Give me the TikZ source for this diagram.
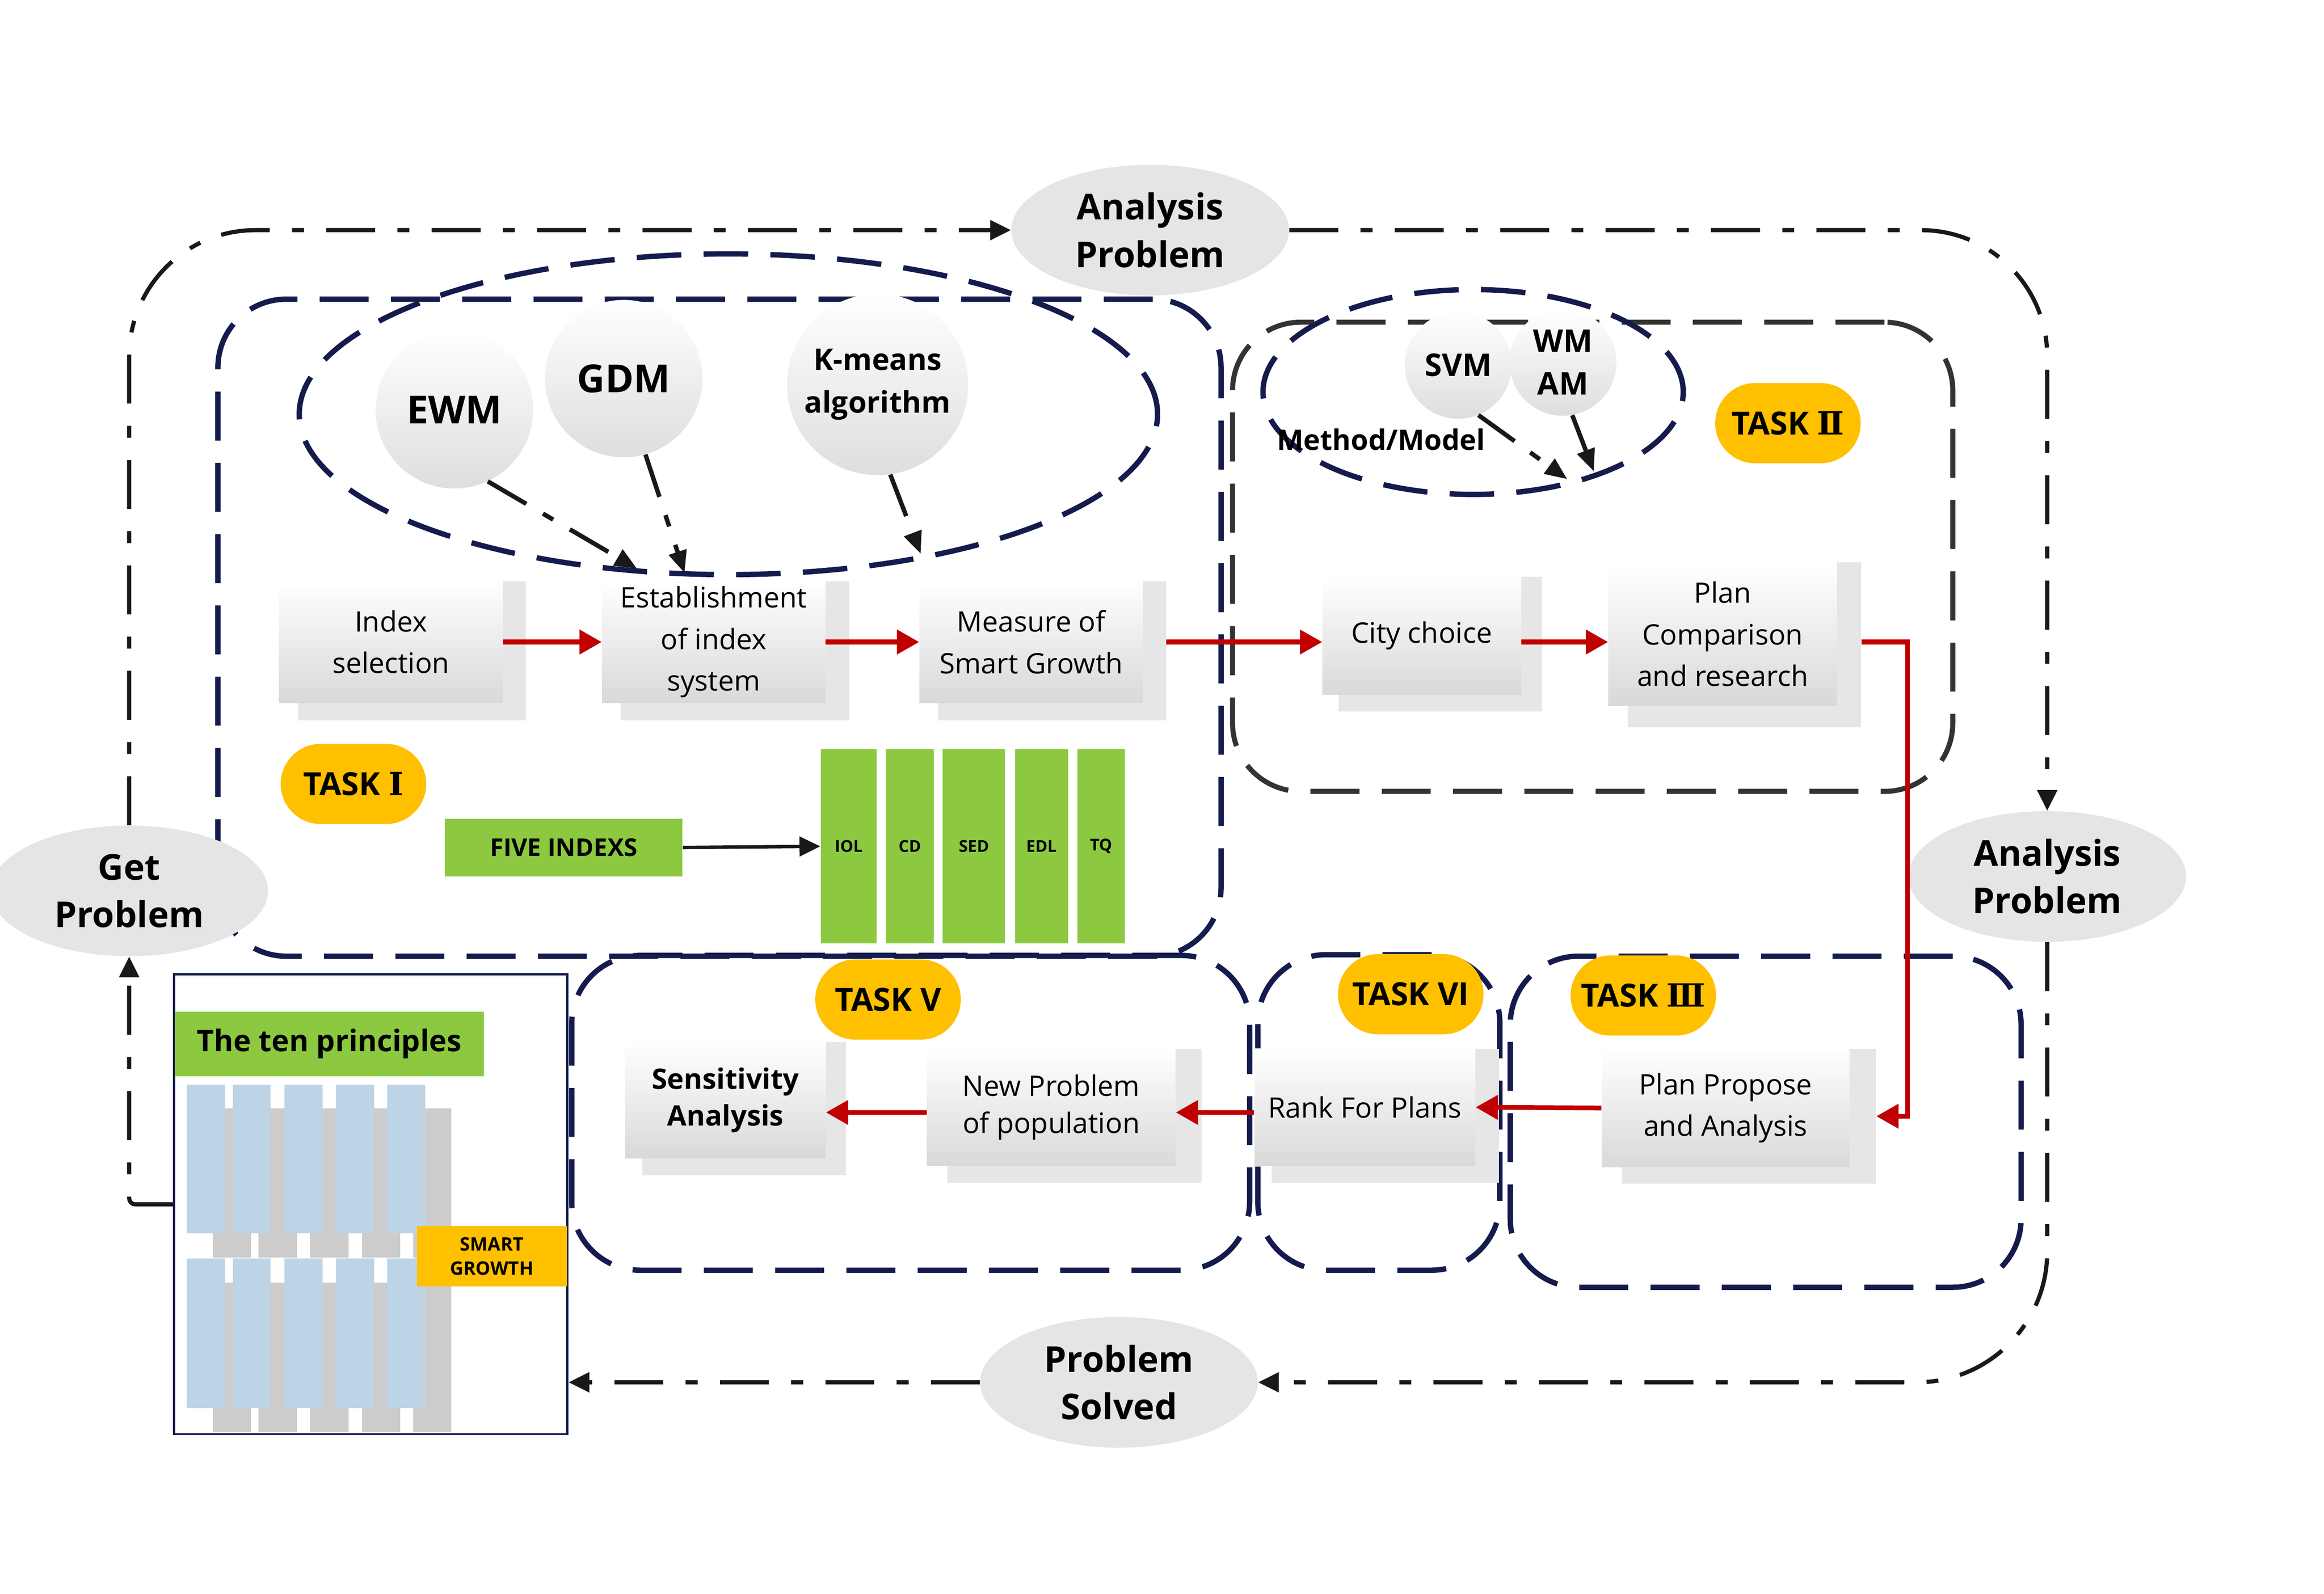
\documentclass[tikz,border=0pt]{standalone}
\usepackage{fontspec}
\setmainfont{Open Sans}
\newfontfamily\numfont{DejaVu Serif}
\usetikzlibrary{shapes.geometric,arrows.meta,calc}
\definecolor{navy}{HTML}{141B4D}
\definecolor{dgray}{HTML}{333333}
\definecolor{redc}{HTML}{C00000}
\definecolor{gold}{HTML}{FFC000}
\definecolor{lgreen}{HTML}{8CC940}
\definecolor{ellgray}{HTML}{E5E5E5}
\definecolor{shadowg}{HTML}{E6E6E6}
\definecolor{pblue}{HTML}{BDD4E7}
\definecolor{pgray}{HTML}{CCCCCC}
\tikzset{
  navyreg/.style={draw=navy, line width=3.6pt, dash pattern=on 33pt off 15pt, rounded corners=46pt, inner sep=0pt},
  grayreg/.style={draw=dgray, line width=3.4pt, dash pattern=on 33pt off 15pt, rounded corners=46pt, inner sep=0pt},
  methell/.style={ellipse, draw=navy, line width=3.6pt, dash pattern=on 30pt off 15pt, inner sep=0pt},
  methcirc/.style={circle, top color=white, bottom color=black!13, inner sep=0pt, align=center, font=\bfseries\fontsize{26}{30}\selectfont},
  probell/.style={ellipse, fill=ellgray, inner sep=0pt, minimum width=187pt, minimum height=88pt, align=center, font=\bfseries\fontsize{24}{32}\selectfont},
  tasklbl/.style={rectangle, rounded corners=27pt, fill=gold, minimum width=98pt, minimum height=54pt, inner sep=0pt, font=\bfseries\fontsize{21.5}{24}\selectfont},
  procbox/.style={rectangle, top color=white, bottom color=black!15, inner sep=0pt, align=center, font=\fontsize{19}{28}\selectfont},
  shadowbox/.style={rectangle, fill=shadowg, inner sep=0pt},
  outer/.style={draw=black!90, line width=2.8pt, dash pattern=on 33pt off 15pt on 8pt off 15pt},
  methodarr/.style={draw=black!90, line width=3pt, dash pattern=on 30pt off 13pt on 8pt off 13pt, -{Triangle[length=15pt,width=12pt]}},
  redarr/.style={draw=redc, line width=3.2pt, -{Triangle[length=15pt,width=16pt]}},
  blktip/.style={-{Triangle[length=14pt,width=13pt]}},
  greenbar/.style={rectangle, fill=lgreen, inner sep=0pt, font=\bfseries\fontsize{11}{13}\selectfont},
  sensfont/.style={font=\bfseries\fontsize{19}{25}\selectfont},
  newpfont/.style={font=\fontsize{19}{25}\selectfont},
}
% name, x1,y1,x2,y2 (front), sx1, sx2, sy2 (shadow), text
\newcommand\mkproc[9]{%
  \node[shadowbox, minimum width={(#7-#6)*1pt}, minimum height={(#8-#3)*1pt}] (#1s) at ({(#6+#7)/2},{(#3+#8)/2}) {};
  \node[procbox, #1font/.try, minimum width={(#4-#2)*1pt}, minimum height={(#5-#3)*1pt}] (#1) at ({(#2+#4)/2},{(#3+#5)/2}) {#9};
}
\begin{document}
\begin{tikzpicture}[x=1pt,y=-1pt]
\useasboundingbox (0,0) rectangle (1565,1073.3);

% ---- task regions
\node[navyreg, minimum width=675.5pt, minimum height=442.5pt] (r1) at (484.5,422.75) {};
\node[grayreg, minimum width=485pt, minimum height=316pt] (r2) at (1072.5,375) {};
\node[navyreg, minimum width=456.5pt, minimum height=212pt] (r5) at (613.25,749.5) {};
\node[navyreg, minimum width=163pt, minimum height=212.5pt] (r6) at (928.5,749.25) {};
\node[navyreg, minimum width=344pt, minimum height=223pt] (r3) at (1189,755.5) {};

% ---- method ellipses and circles
\node[methell, minimum width=578pt, minimum height=216pt] (me1) at (490.5,279) {};
\node[methell, minimum width=283pt, minimum height=138pt] (me2) at (992,264) {};
\node[methcirc, minimum size=106pt] (ewm) at (306,276) {EWM};
\node[methcirc, minimum size=106pt] (gdm) at (420,255) {GDM};
\node[methcirc, minimum size=122pt, font=\bfseries\fontsize{20}{29}\selectfont] (kmeans) at (591,259) {K-means\\algorithm};
\node[methcirc, minimum size=72pt, font=\bfseries\fontsize{21}{29}\selectfont] (svm) at (982,246) {SVM};
\node[methcirc, minimum size=72pt, font=\bfseries\fontsize{21}{29}\selectfont] (wmam) at (1052.5,244) {WM\\AM};
\node[font=\bfseries\fontsize{19}{22}\selectfont, inner sep=0pt] (mm) at (930,296) {Method/Model};

\coordinate (ewmT) at (429,383);
\coordinate (gdmT) at (461,386);
\coordinate (kmT) at (620,373);
\coordinate (svmT) at (1055.4,322.7);
\coordinate (wmT) at (1073.3,317.5);
\draw[methodarr] (ewm.-65) -- (ewmT);
\draw[methodarr] (gdm.-74) -- (gdmT);
\draw[methodarr] (kmeans.-82) -- (kmT);
\draw[methodarr] (svm.-68) -- (svmT);
\draw[methodarr] (wmam.-80) -- (wmT);

% ---- process boxes
\mkproc{idx}{188}{391.5}{338.5}{473.3}{200.6}{354}{485.2}{Index\\selection}
\mkproc{est}{405.4}{391.5}{555.8}{473.3}{418}{571.9}{485.2}{Establishment\\of index\\system}
\mkproc{meas}{619.2}{391.5}{769.5}{473.3}{631.7}{785.2}{485.2}{Measure of\\Smart Growth}
\mkproc{city}{890.6}{388.5}{1024.2}{467.7}{901.4}{1038.4}{479.1}{City choice}
\mkproc{plan}{1083.1}{378.8}{1237}{475.4}{1096}{1253.3}{489.9}{Plan\\Comparison\\and research}
\mkproc{pp}{1078.6}{706.4}{1245.4}{786.1}{1092.5}{1263.3}{797.2}{Plan Propose\\and Analysis}
\mkproc{rank}{844.8}{706.3}{993.5}{785.2}{856.4}{1009.3}{796.6}{Rank For Plans}
\mkproc{newp}{624.2}{706.3}{791.6}{785.2}{637.9}{809}{796.6}{New Problem\\of population}
\mkproc{sens}{421}{701.7}{556}{780.2}{432.7}{569.8}{791.7}{Sensitivity\\Analysis}

% ---- task labels
\node[tasklbl] (t1) at (238,528) {TASK {\numfont Ⅰ}};
\node[tasklbl] (t2) at (1204,285) {TASK {\numfont Ⅱ}};
\node[tasklbl] (t5) at (598,673.2) {TASK V};
\node[tasklbl] (t6) at (950,669.6) {TASK VI};
\node[tasklbl] (t3) at (1106.6,670.5) {TASK {\numfont Ⅲ}};

% ---- five indexes
\node[rectangle, fill=lgreen, minimum width=160pt, minimum height=38.8pt, inner sep=0pt, font=\bfseries\fontsize{16.5}{20}\selectfont] (five) at (379.6,570.8) {FIVE INDEXS};
\node[greenbar, minimum width=37.8pt, minimum height=130.9pt] (iol) at (571.5,570) {IOL};
\node[greenbar, minimum width=32pt, minimum height=130.9pt] (cd) at (612.7,570) {CD};
\node[greenbar, minimum width=41.9pt, minimum height=130.9pt] (sed) at (655.85,570) {SED};
\node[greenbar, minimum width=35.7pt, minimum height=130.9pt] (edl) at (701.35,570) {EDL};
\node[greenbar, minimum width=31.9pt, minimum height=130.9pt] (tq) at (741.45,570) {TQ};
\draw[draw=black!90, line width=2.3pt, blktip] (five.east) -- (iol.west);

% ---- the ten principles
\foreach \bx in {125.9,156.7,191.5,226.3,260.7}{
  \fill[pgray] ({\bx+17.4},746.6) rectangle ++(25.8,100.3);
  \fill[pgray] ({\bx+17.4},863.9) rectangle ++(25.8,100.8);
}
\foreach \bx in {125.9,156.7,191.5,226.3,260.7}{
  \fill[pblue] (\bx,730.4) rectangle ++(25.6,100.3);
  \fill[pblue] (\bx,847.7) rectangle ++(25.6,100.8);
}
\node[rectangle, draw=navy, line width=1.5pt, minimum width=264.8pt, minimum height=309.6pt, inner sep=0pt] (tp) at (249.7,811.1) {};
\node[rectangle, fill=lgreen, minimum width=208pt, minimum height=43.5pt, inner sep=0pt, font=\bfseries\fontsize{20}{24}\selectfont] (hdr) at (221.7,703) {The ten principles};
\node[rectangle, fill=gold, minimum width=101pt, minimum height=40.6pt, inner sep=0pt, align=center, font=\bfseries\fontsize{12.5}{16}\selectfont] (smart) at (331.2,846.1) {SMART\\GROWTH};

% ---- problem ellipses
\node[probell] (gp) at (87,600) {Get\\Problem};
\node[probell] (ap1) at (774.5,155) {Analysis\\Problem};
\node[probell] (ap2) at (1378.6,590.3) {Analysis\\Problem};
\node[probell] (ps) at (753.5,931) {Problem\\Solved};

% ---- outer loop
\draw[outer, blktip, rounded corners=85pt] (gp.north) |- (ap1.west);
\draw[outer, blktip, rounded corners=85pt] (ap1.east) -| (ap2.north);
\draw[outer, blktip, rounded corners=88pt] (ap2.south) |- (ps.east);
\draw[outer, blktip] (ps.west) -- (ps.west -| tp.east);
\draw[outer, blktip, rounded corners=4pt] (tp.west) -| (gp.south);

% ---- red flow
\coordinate (redx) at (1284.5,0);
\draw[redarr] (idx.east) -- (est.west);
\draw[redarr] (est.east) -- (meas.west);
\draw[redarr] (meass.east |- meas.east) -- (city.west |- meas.east);
\draw[redarr] (city.east |- meas.east) -- (plan.west |- meas.east);
\draw[redarr] (plans.east |- meas.east) -- (redx |- meas.east) -- (redx |- pps.east) -- (pps.east);
\draw[redarr] (pp.west) -- (rank.east);
\draw[redarr] ([yshift=-3.5pt]rank.west) -- ([yshift=-3.5pt]newp.east);
\draw[redarr] ([yshift=-3.5pt]newp.west) -- ([yshift=-3.5pt]newp.west -| sens.east);
\end{tikzpicture}
\end{document}
